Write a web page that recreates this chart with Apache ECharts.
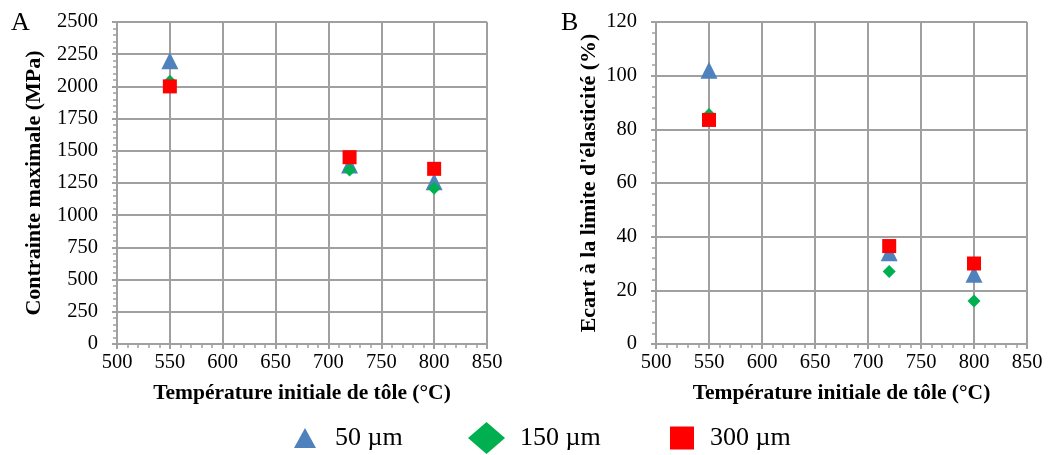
<!DOCTYPE html>
<html><head><meta charset="utf-8">
<script src="https://cdn.jsdelivr.net/npm/echarts@6/dist/echarts.min.js"></script>
<style>html,body{margin:0;padding:0;background:#fff}#c{width:1061px;height:455px}</style>
</head><body><div id="c"></div>
<script>
const temps = [550, 720, 800];
const seriesNames = ['50 µm', '150 µm', '300 µm'];
const stressA_50 = [2200, 1390, 1260];
const stressA_150 = [2040, 1350, 1210];
const stressA_300 = [2000, 1450, 1360];
const ecartB_50 = [102, 34, 26];
const ecartB_150 = [85.5, 27, 16];
const ecartB_300 = [83.5, 36.5, 30];
const xTicks = [500, 550, 600, 650, 700, 750, 800, 850];
const yTicksA = [0, 250, 500, 750, 1000, 1250, 1500, 1750, 2000, 2250, 2500];
const yTicksB = [0, 20, 40, 60, 80, 100, 120];

const font = '"Liberation Serif", "Times New Roman", serif';
const gridColor = '#A0A0A0';
const colors = ['#4F81BD', '#00B050', '#FF0000'];
const symbols = ['triangle', 'diamond', 'rect'];
const sizes = [17, 13, 14];

function xAxis(idx) {
  return {
    gridIndex: idx, type: 'value', min: xTicks[0], max: xTicks[xTicks.length - 1], interval: 50,
    name: 'Température initiale de tôle (°C)', nameLocation: 'middle', nameGap: 38,
    nameTextStyle: {fontFamily: font, fontSize: 21.5, fontWeight: 'bold', color: '#000'},
    axisLine: {show: true, lineStyle: {color: gridColor, width: 2}},
    axisTick: {show: true, length: 5, lineStyle: {color: gridColor, width: 2}},
    minorTick: {show: true, splitNumber: 5, length: 4, lineStyle: {color: gridColor, width: 1.5}},
    axisLabel: {fontFamily: font, fontSize: 20.5, color: '#000', margin: 8, formatter: v => String(v)},
    splitLine: {show: true, lineStyle: {color: gridColor, width: 2}}
  };
}
function yAxis(idx, ticks, name, gap) {
  return {
    gridIndex: idx, type: 'value', min: ticks[0], max: ticks[ticks.length - 1], interval: ticks[1] - ticks[0],
    name: name, nameLocation: 'middle', nameGap: gap, nameRotate: 90,
    nameTextStyle: {fontFamily: font, fontSize: 22, fontWeight: 'bold', color: '#000'},
    axisLine: {show: true, lineStyle: {color: gridColor, width: 2}},
    axisTick: {show: true, length: 5, lineStyle: {color: gridColor, width: 2}},
    minorTick: {show: true, splitNumber: 5, length: 4, lineStyle: {color: gridColor, width: 1.5}},
    axisLabel: {fontFamily: font, fontSize: 20.5, color: '#000', margin: 19, formatter: v => String(v)},
    splitLine: {show: true, lineStyle: {color: gridColor, width: 2}}
  };
}
function mk(name, i, xi, vals) {
  return {
    name: name, type: 'scatter', xAxisIndex: xi, yAxisIndex: xi,
    symbol: symbols[i], symbolSize: sizes[i],
    itemStyle: {color: colors[i], opacity: 1},
    data: temps.map((t, k) => [t, vals[k]]), z: 2 + i
  };
}
function leg(i, left, w, h, pad) {
  return {
    data: [{name: seriesNames[i], icon: symbols[i]}],
    left: left, top: 422, itemWidth: w, itemHeight: h, padding: 0,
    textStyle: {fontFamily: font, fontSize: 26, color: '#000', lineHeight: 32, padding: [0, 0, 0, pad]},
    selectedMode: false
  };
}
const chart = echarts.init(document.getElementById('c'), null, {renderer: 'canvas'});
chart.setOption({
  animation: false,
  backgroundColor: '#fff',
  textStyle: {fontFamily: font},
  title: [
    {text: 'A', left: 6, top: 5, textStyle: {fontFamily: font, fontSize: 26, fontWeight: 'normal', color: '#000'}},
    {text: 'B', left: 556, top: 5, textStyle: {fontFamily: font, fontSize: 26, fontWeight: 'normal', color: '#000'}}
  ],
  legend: [
    leg(0, 294, 22, 20, 14),
    leg(1, 468, 37, 32, 10),
    leg(2, 670, 24, 23, 11)
  ],
  grid: [
    {left: 117, right: 574, top: 22, bottom: 111},
    {left: 656, right: 34, top: 22, bottom: 111}
  ],
  xAxis: [xAxis(0), xAxis(1)],
  yAxis: [
    yAxis(0, yTicksA, 'Contrainte maximale (MPa)', 72),
    yAxis(1, yTicksB, "Ecart à la limite d'élasticité (%)", 56)
  ],
  series: [
    mk(seriesNames[0], 0, 0, stressA_50),
    mk(seriesNames[1], 1, 0, stressA_150),
    mk(seriesNames[2], 2, 0, stressA_300),
    mk(seriesNames[0], 0, 1, ecartB_50),
    mk(seriesNames[1], 1, 1, ecartB_150),
    mk(seriesNames[2], 2, 1, ecartB_300)
  ]
});
</script></body></html>
